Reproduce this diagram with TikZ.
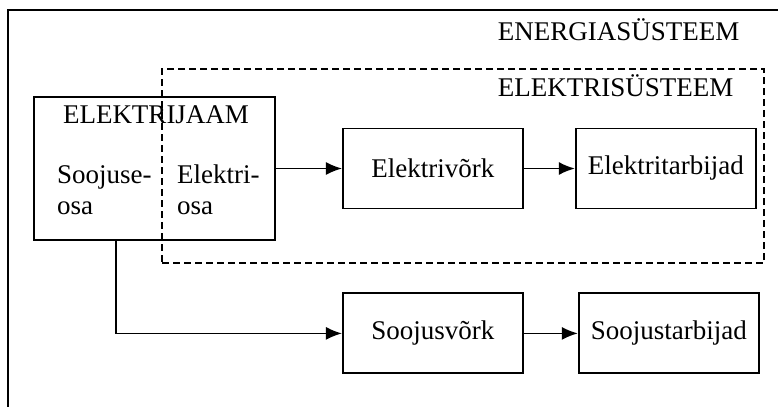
\documentclass[tikz,border=0pt]{standalone}
\usepackage{fontspec}
\setmainfont{Liberation Serif}
\usepackage{tikz}
\usetikzlibrary{arrows.meta,positioning,fit}
\tikzset{
    blok/.style={draw, line width=1.9pt, minimum width=180pt, minimum height=80pt, align=center},
    osatext/.style={anchor=west, align=left, inner sep=0pt}
}

\begin{document}
\begin{tikzpicture}[x=1pt,y=-1pt,node distance=83pt and 51pt,>={Latex[length=16pt,width=13pt]},font=\fontsize{27}{31}\selectfont]
    \useasboundingbox (0,0) rectangle (778,407);
    \draw[line width=1.2pt] (778,10) -| (8,407);

    \node[blok, minimum width=241pt, minimum height=143pt] (jaam) at (154.5,168.5) {};
    \node[right=66pt of jaam, blok] (evork) {Elektrivõrk};
    \node[right=of evork, blok] (etarb) {Elektritarbijad};
    \node[below=of evork, blok] (svork) {Soojusvõrk};
    \node[right=54pt of svork, blok] (starb) {Soojustarbijad};

    \coordinate (esysnw) at (162,69);
    \coordinate (esysse) at (764,263);
    \node[draw, line width=1.6pt, dash pattern=on 7pt off 4pt, inner sep=0pt, fit=(esysnw)(esysse)] (esys) {};

    \node[anchor=base east] (energialabel) at (743,40) {ENERGIASÜSTEEM};
    \node[anchor=base east] (esyslabel) at (737,96) {ELEKTRISÜSTEEM};
    \node[anchor=base] (jaamlabel) at (156,123) {ELEKTRIJAAM};
    \node[osatext] (soojosa) at (57,190) {Soojuse-\\osa};
    \node[osatext] (elektriosa) at (177,190) {Elektri-\\osa};

    \coordinate (jaamout) at ([xshift=-38.5pt]jaam.south);
    \draw[->,line width=1.6pt] (jaam) -- (evork);
    \draw[->,line width=1.6pt] (evork) -- (etarb);
    \draw[->,line width=1.6pt] (jaamout) |- (svork);
    \draw[->,line width=1.6pt] (svork) -- (starb);
\end{tikzpicture}
\end{document}
